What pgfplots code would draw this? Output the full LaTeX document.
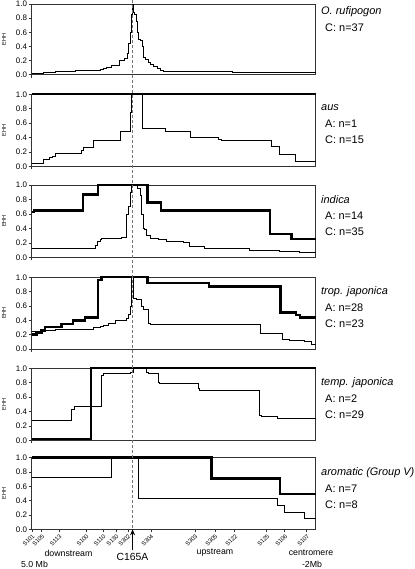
\documentclass[border=0pt]{standalone}
\usepackage{fontspec}
\setmainfont{Liberation Sans}
\usepackage{pgfplots}
\pgfplotsset{compat=1.18}
\usetikzlibrary{arrows.meta}

\pgfplotsset{
  panel/.style={
    scale only axis, width=284bp, anchor=north west,
    xmin=31.7, xmax=316, ymin=0, ymax=1,
    clip=false,
    axis line style={black!80, line width=0.6bp},
    tick align=outside, tick pos=left,
    major tick length=3bp,
    tick style={black!80, line width=0.6bp},
    ytick={0,0.2,0.4,0.6,0.8,1},
    yticklabel style={font=\fontsize{8}{8}\selectfont, inner sep=1.5bp,
      /pgf/number format/fixed, /pgf/number format/fixed zerofill,
      /pgf/number format/precision=1},
    /pgf/number format/assume math mode=true,
    xtick={31.7}, xticklabels={},
    ylabel={EHH},
    ylabel style={font=\fontsize{5.5}{5.5}\selectfont, at={(axis description cs:-0.098,0.5)}, anchor=center},
  },
  Aline/.style={const plot, no marks, black, line width=2.4bp},
  Cline/.style={const plot, no marks, black, line width=0.75bp},
}

\begin{document}
\begin{tikzpicture}
\useasboundingbox (0,0) rectangle (415bp,569bp);

% Panel 1: O. rufipogon
\begin{axis}[panel, at={(31.7bp,565bp)}, height=70.7bp]
\addplot[Cline] coordinates {(31.7,0.02) (43.3,0.03) (55,0.05) (75,0.055) (96.7,0.06) (100,0.08) (103.3,0.09) (106.7,0.11) (111.7,0.13) (119.3,0.2) (124,0.23) (127.3,0.3) (128.7,0.45) (130,0.6) (131.3,0.85) (132.7,1.0) (133.3,0.88) (134.7,0.86) (136,0.75) (137.3,0.6) (138.7,0.5) (140.7,0.48) (142,0.4) (143.3,0.25) (145.3,0.22) (148,0.18) (150.7,0.15) (154,0.12) (157.3,0.09) (160.7,0.06) (163.3,0.05) (180,0.045) (200,0.04) (233,0.03) (316,0.03)};
\coordinate (dtop) at (axis cs:132.7,1.05);
\end{axis}

% Panel 2: aus
\begin{axis}[panel, at={(31.7bp,474.7bp)}, height=72.2bp]
\addplot[Cline] coordinates {(31.7,0.04) (43.3,0.10) (49.3,0.13) (52.7,0.14) (55,0.18) (81.7,0.22) (83.3,0.26) (93.3,0.36) (120,0.49) (130,0.75) (131.5,1.0) (142,0.53) (166,0.49) (190.7,0.40) (218.3,0.38) (221.7,0.36) (271.7,0.28) (279.3,0.17) (296,0.07) (316,0.065)};
\addplot[Aline] coordinates {(31.7,1) (316,1)};
\end{axis}

% Panel 3: indica
\begin{axis}[panel, at={(31.7bp,384bp)}, height=72.3bp]
\addplot[Cline] coordinates {(31.7,0.12) (42.7,0.13) (95,0.16) (97.7,0.22) (100,0.25) (101.7,0.26) (121.7,0.28) (126.7,0.6) (128.3,0.7) (130,0.9) (131.7,1.0) (137.3,0.95) (140,0.85) (141.7,0.6) (143.3,0.4) (144,0.38) (146.7,0.3) (150.7,0.26) (158.3,0.25) (166.7,0.22) (183.3,0.2) (190,0.15) (205,0.12) (250,0.09) (280,0.08) (300,0.07) (316,0.07)};
\addplot[Aline] coordinates {(31.7,0.63) (34.3,0.65) (83.3,0.87) (98.3,1.0) (147.7,0.76) (161,0.65) (270,0.32) (291.7,0.25) (316,0.25)};
\end{axis}

% Panel 4: trop. japonica
\begin{axis}[panel, at={(31.7bp,291.7bp)}, height=71.7bp]
\addplot[Cline] coordinates {(31.7,0.24) (43.3,0.26) (55,0.28) (93.3,0.30) (100,0.31) (103.3,0.33) (108.3,0.36) (115,0.40) (126.7,0.43) (128.3,0.48) (130.7,0.6) (131.7,1.0) (133.3,0.70) (136.7,0.69) (141.7,0.6) (143.3,0.55) (148.3,0.36) (150,0.35) (233,0.345) (260.7,0.22) (282.7,0.135) (290,0.12) (305,0.10) (311.7,0.06) (316,0.06)};
\addplot[Aline] coordinates {(31.7,0.2) (36.7,0.23) (41.7,0.26) (45,0.31) (61.7,0.35) (73.3,0.40) (85,0.44) (98.3,0.96) (101.7,1.0) (147.7,0.92) (209.3,0.87) (280.7,0.51) (296,0.47) (300,0.44) (316,0.44)};
\end{axis}

% Panel 5: temp. japonica
\begin{axis}[panel, at={(31.7bp,200.7bp)}, height=72bp]
\addplot[Cline] coordinates {(31.7,0.27) (71.7,0.43) (74,0.47) (101.7,0.9) (103.3,0.93) (130,0.95) (133.3,1.0) (146.7,0.94) (148.3,0.93) (158.3,0.8) (160,0.79) (198.3,0.72) (200,0.69) (259.3,0.35) (261.7,0.33) (277.3,0.30) (316,0.30)};
\addplot[Aline] coordinates {(31.7,0.02) (91,1.0) (316,1.0)};
\end{axis}

% Panel 6: aromatic
\begin{axis}[panel, at={(31.7bp,111.3bp)}, height=71.6bp,
  xtick={32,41.7,59,86,103,116,128,151,195,215,235,267,285,307},
  xticklabels={S101,S105,S113,S100,S110,S130,S302,S304,S303,S305,S122,S125,S106,S107},
  xticklabel style={rotate=45, anchor=north east, font=\fontsize{6}{6}\selectfont, inner sep=1bp}]
\addplot[Cline] coordinates {(31.7,0.72) (111,1.0) (138.7,0.43) (277.7,0.34) (285,0.24) (305,0.15) (316,0.15)};
\addplot[Aline] coordinates {(31.7,1.0) (211.7,0.71) (280,0.49) (316,0.49)};
\coordinate (dbot) at (axis cs:132.7,0);
\draw[black, line width=1.3bp, -{Stealth[length=6bp,width=5bp]}] (axis cs:132.7,-0.29) -- (axis cs:132.7,0);
\end{axis}

\draw[black!55, dash pattern=on 3bp off 2bp, line width=0.6bp] (dtop) -- (dbot);

% bottom annotations
\node[font=\fontsize{8.8}{9}\selectfont] at (68.5bp,16bp) {downstream};
\node[font=\fontsize{8.8}{9}\selectfont] at (215bp,16bp) {upstream};
\node[font=\fontsize{8.8}{9}\selectfont] at (311bp,16bp) {centromere};
\node[font=\fontsize{8.8}{9}\selectfont] at (312bp,5bp) {-2Mb};
\node[font=\fontsize{8.8}{9}\selectfont] at (34.5bp,4.5bp) {5.0 Mb};
\node[font=\fontsize{10.4}{11}\selectfont] at (132.5bp,12bp) {C165A};

% right labels
\begin{scope}[every node/.style={anchor=west, font=\fontsize{11}{11}\selectfont, inner sep=0pt}]
\node[font=\fontsize{11}{11}\selectfont\itshape] at (321bp,557bp) {O. rufipogon};
\node at (325bp,541bp) {C: n=37};
\node[font=\fontsize{11}{11}\selectfont\itshape] at (321bp,461bp) {aus};
\node at (325bp,445bp) {A: n=1};
\node at (325bp,429bp) {C: n=15};
\node[font=\fontsize{11}{11}\selectfont\itshape] at (321bp,369bp) {indica};
\node at (325bp,353bp) {A: n=14};
\node at (325bp,337bp) {C: n=35};
\node[font=\fontsize{11}{11}\selectfont\itshape] at (321bp,277bp) {trop. japonica};
\node at (325bp,261bp) {A: n=28};
\node at (325bp,245bp) {C: n=23};
\node[font=\fontsize{11}{11}\selectfont\itshape] at (321bp,186bp) {temp. japonica};
\node at (325bp,170bp) {A: n=2};
\node at (325bp,154bp) {C: n=29};
\node[font=\fontsize{11}{11}\selectfont\itshape] at (321bp,96bp) {aromatic (Group V)};
\node at (325bp,80bp) {A: n=7};
\node at (325bp,64bp) {C: n=8};
\end{scope}
\end{tikzpicture}
\end{document}
